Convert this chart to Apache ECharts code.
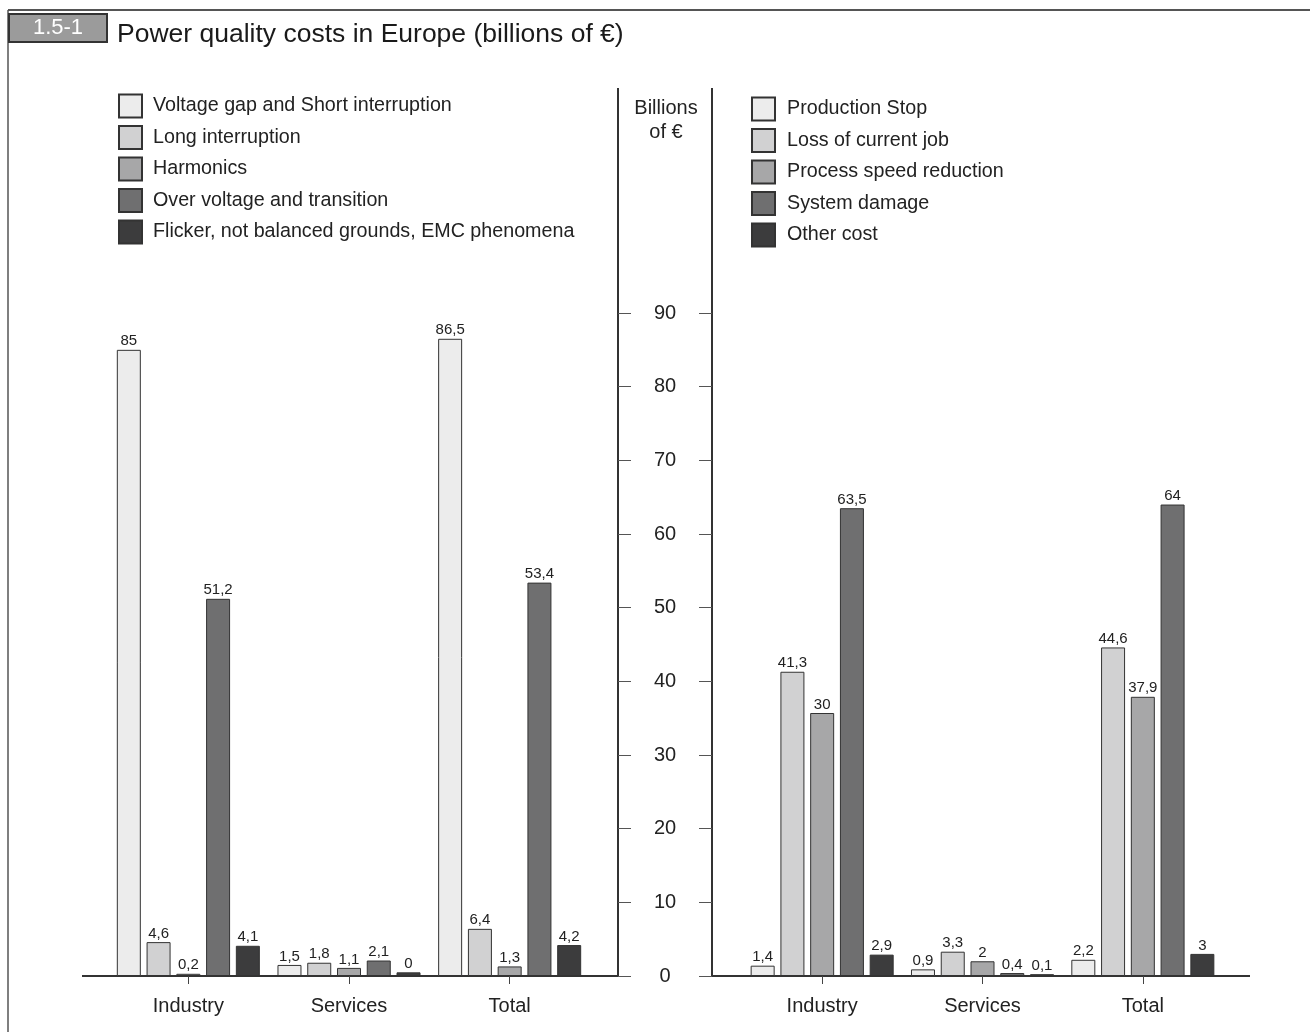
<!DOCTYPE html>
<html>
<head>
<meta charset="utf-8">
<script src="https://cdn.jsdelivr.net/npm/echarts@6/dist/echarts.min.js"></script>
<style>
html,body{margin:0;padding:0;background:#fff;}
#chart{width:1310px;height:1032px;}
</style>
</head>
<body>
<div id="chart"></div>
<script>
// ---- data ----
const categories = ['Industry', 'Services', 'Total'];
const yTicks = [0, 10, 20, 30, 40, 50, 60, 70, 80, 90];

const leftNames = ['Voltage gap and Short interruption', 'Long interruption', 'Harmonics', 'Over voltage and transition', 'Flicker, not balanced grounds, EMC phenomena'];
const voltageGap = [85, 1.5, 86.5];
const longInterruption = [4.6, 1.8, 6.4];
const harmonics = [0.3, 1.1, 1.3];
const harmonicsPrinted = ['0,2', '1,1', '1,3'];
const overVoltage = [51.2, 2.1, 53.4];
const flicker = [4.1, 0.5, 4.2];
const flickerPrinted = ['4,1', '0', '4,2'];

const rightNames = ['Production Stop', 'Loss of current job', 'Process speed reduction', 'System damage', 'Other cost'];
const productionStop = [1.4, 0.9, 2.2];
const lossOfJob = [41.3, 3.3, 44.6];
const processSpeed = [35.7, 2, 37.9];
const processSpeedPrinted = ['30', '2', '37,9'];
const systemDamage = [63.5, 0.4, 64];
const otherCost = [2.9, 0.25, 3];
const otherCostPrinted = ['2,9', '0,1', '3'];

const colors = ['#ececec', '#d1d1d2', '#a7a7a8', '#6f6f70', '#3c3c3d'];
const FONT = '"Liberation Sans", Arial, sans-serif';

const chart = echarts.init(document.getElementById('chart'));

function fmt(v) { return String(v).replace('.', ','); }

function mkSeries(name, data, idx, gridIdx, printed) {
  return {
    type: 'bar', name: name, data: data,
    xAxisIndex: gridIdx, yAxisIndex: gridIdx,
    barWidth: 24, barGap: '24%',
    itemStyle: { color: colors[idx], borderColor: '#333', borderWidth: 1 },
    label: {
      show: true, position: 'top', distance: 1,
      fontFamily: FONT, fontSize: 15, color: '#222',
      formatter: function (p) { return printed ? printed[p.dataIndex] : fmt(p.value); }
    }
  };
}

const leftData = [voltageGap, longInterruption, harmonics, overVoltage, flicker];
const rightData = [productionStop, lossOfJob, processSpeed, systemDamage, otherCost];
const leftPrinted = [null, null, harmonicsPrinted, null, flickerPrinted];
const rightPrinted = [null, null, processSpeedPrinted, null, otherCostPrinted];
const series = [];
leftData.forEach((d, i) => series.push(mkSeries(leftNames[i], d, i, 0, leftPrinted[i])));
rightData.forEach((d, i) => series.push(mkSeries(rightNames[i], d, i, 1, rightPrinted[i])));

const grids = [
  { left: 108, width: 482, top: 313, bottom: 56 },
  { left: 742, width: 481, top: 313, bottom: 56 }
];

function xAx(g) {
  return {
    type: 'category', gridIndex: g, data: categories, offset: 6,
    axisLine: { show: false },
    axisTick: { show: true, alignWithLabel: true, length: 8, lineStyle: { color: '#444', width: 1 } },
    axisLabel: { margin: 14, fontFamily: FONT, fontSize: 20, color: '#222' }
  };
}
function yAx(g) {
  return {
    type: 'value', gridIndex: g, min: 0, max: 90, interval: 10,
    position: g === 0 ? 'right' : 'left',
    offset: g === 0 ? 28 : 30,
    axisLine: { show: false },
    axisTick: { show: true, length: 13, lineStyle: { color: '#555', width: 1 } },
    splitLine: { show: false },
    axisLabel: g === 0 ? { show: false } : {
      show: true, align: 'center', margin: 47, fontFamily: FONT, fontSize: 20, color: '#222',
      formatter: function (v) { return yTicks.indexOf(v) >= 0 ? String(v) : ''; }
    }
  };
}

const lineStyle = { stroke: '#333', lineWidth: 2 };
chart.setOption({
  animation: false,
  backgroundColor: '#fff',
  grid: grids,
  xAxis: [xAx(0), xAx(1)],
  yAxis: [yAx(0), yAx(1)],
  legend: [
    { data: leftNames, orient: 'vertical', left: 118, top: 93.5, padding: 0, itemWidth: 23, itemHeight: 23, itemGap: 6.5,
      selectedMode: false, icon: 'rect',
      textStyle: { fontFamily: FONT, fontSize: 19.7, lineHeight: 23, color: '#222', padding: [0, 0, 0, 6] } },
    { data: rightNames, orient: 'vertical', left: 751, top: 96.5, padding: 0, itemWidth: 23, itemHeight: 23, itemGap: 6.5,
      selectedMode: false, icon: 'rect',
      textStyle: { fontFamily: FONT, fontSize: 19.7, lineHeight: 23, color: '#222', padding: [0, 0, 0, 7] } }
  ],
  series: series,
  graphic: [
    { type: 'line', shape: { x1: 8, y1: 10, x2: 1310, y2: 10 }, style: { stroke: '#555', lineWidth: 2 } },
    { type: 'line', shape: { x1: 8, y1: 10, x2: 8, y2: 1032 }, style: { stroke: '#555', lineWidth: 1.5 } },
    { type: 'rect', shape: { x: 9, y: 14, width: 98, height: 28 }, style: { fill: '#9b9b9b', stroke: '#333', lineWidth: 2 } },
    { type: 'text', x: 58, y: 28, style: { text: '1.5-1', fill: '#fff', fontFamily: FONT, fontSize: 22, align: 'center', verticalAlign: 'middle' } },
    { type: 'text', x: 117, y: 35, style: { text: 'Power quality costs in Europe (billions of €)', fill: '#1a1a1a', fontFamily: FONT, fontSize: 26.5, verticalAlign: 'middle' } },
    { type: 'text', x: 666, y: 108, style: { text: 'Billions', fill: '#222', fontFamily: FONT, fontSize: 20, align: 'center', verticalAlign: 'middle' } },
    { type: 'text', x: 666, y: 132, style: { text: 'of €', fill: '#222', fontFamily: FONT, fontSize: 20, align: 'center', verticalAlign: 'middle' } },
    { type: 'line', shape: { x1: 618, y1: 88, x2: 618, y2: 977 }, style: lineStyle },
    { type: 'line', shape: { x1: 712, y1: 88, x2: 712, y2: 977 }, style: lineStyle },
    { type: 'line', shape: { x1: 82, y1: 976, x2: 619, y2: 976 }, style: lineStyle },
    { type: 'line', shape: { x1: 711, y1: 976, x2: 1250, y2: 976 }, style: lineStyle }
  ]
});
</script>
</body>
</html>
